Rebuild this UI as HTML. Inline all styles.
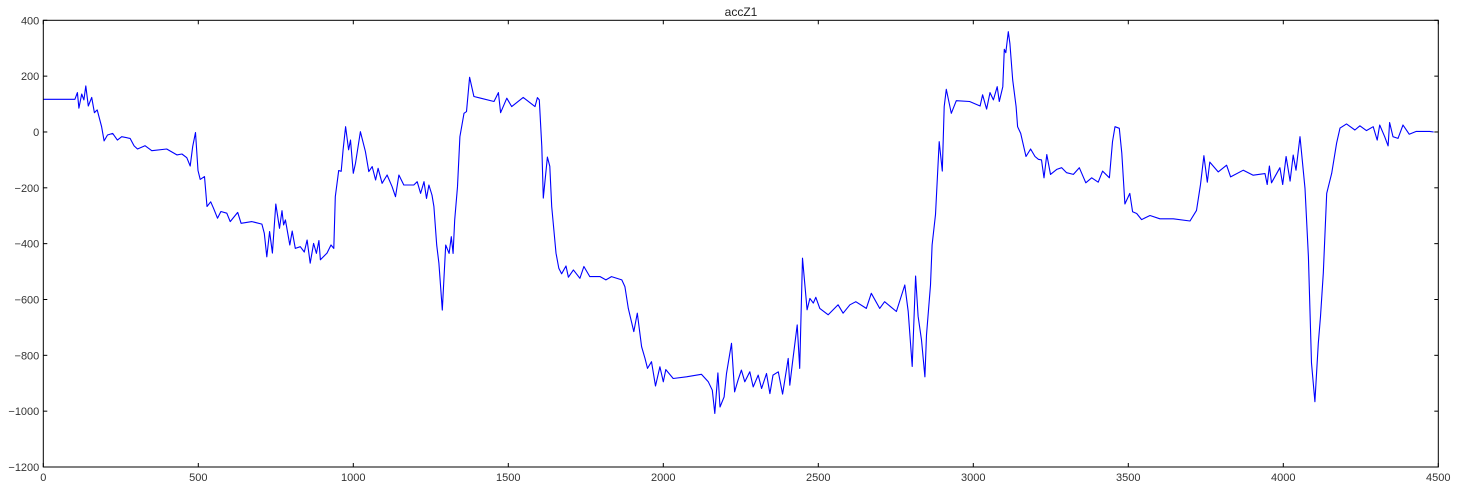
<!DOCTYPE html>
<html><head><meta charset="utf-8"><style>
body{margin:0;background:#fff;}
svg{display:block;font-family:"Liberation Sans","DejaVu Sans",sans-serif;}
</style></head><body>
<svg id="chart" width="1457" height="486" viewBox="0 0 1457 486">
<text x="741" y="16" text-anchor="middle" font-size="12" fill="#222">accZ1</text>
<g id="ticks"></g>
<path id="series" fill="none" stroke="#0000ff" stroke-width="1.1" stroke-linejoin="round"/>
<rect x="43.3" y="20.3" width="1395" height="446.7" fill="none" stroke="#000" stroke-width="1"/>
</svg>
<script>
const xTicks=[0,500,1000,1500,2000,2500,3000,3500,4000,4500];
const yTicks=[400,200,0,-200,-400,-600,-800,-1000,-1200];
const xs=[0,102,110,115,124,131,137,145,156,165,174,188,196,207,224,239,253,280,293,304,328,350,398,431,447,463,474,482,491,499,506,520,528,540,549,562,573,592,603,627,638,673,705,713,721,730,739,750,762,770,775,781,795,803,813,829,842,851,861,872,881,889,894,915,928,937,942,953,961,967,975,985,991,1000,1007,1023,1039,1050,1061,1072,1080,1093,1109,1125,1136,1147,1163,1195,1206,1217,1228,1236,1244,1254,1260,1269,1276,1287,1298,1309,1316,1322,1327,1336,1344,1357,1365,1375,1389,1411,1454,1468,1475,1495,1511,1548,1586,1594,1600,1608,1613,1626,1634,1640,1654,1663,1672,1686,1694,1710,1731,1744,1763,1796,1815,1833,1866,1876,1887,1905,1916,1930,1941,1949,1962,1975,1989,2000,2008,2032,2075,2123,2145,2158,2166,2176,2183,2196,2204,2220,2230,2241,2252,2263,2279,2290,2306,2317,2333,2344,2354,2371,2385,2403,2408,2417,2432,2440,2449,2464,2473,2484,2492,2505,2532,2564,2580,2602,2621,2655,2671,2698,2714,2752,2779,2790,2803,2814,2822,2833,2844,2849,2862,2867,2878,2890,2900,2906,2913,2929,2945,2988,3022,3030,3043,3054,3065,3077,3084,3095,3100,3105,3113,3118,3127,3138,3143,3153,3159,3170,3185,3199,3210,3220,3228,3237,3249,3269,3285,3301,3323,3342,3363,3382,3403,3417,3439,3449,3457,3471,3479,3489,3505,3514,3527,3543,3570,3602,3645,3699,3720,3733,3744,3755,3763,3790,3817,3830,3871,3903,3941,3948,3955,3962,3989,3998,4009,4022,4032,4041,4054,4070,4081,4091,4102,4113,4120,4129,4140,4156,4172,4183,4204,4231,4247,4268,4290,4303,4311,4327,4338,4343,4354,4370,4386,4406,4429,4472,4485];
const ys=[117,117,141,85,136,115,165,93,124,69,79,19,-32,-11,-5,-29,-17,-23,-50,-61,-49,-67,-61,-82,-79,-92,-122,-52,-2,-138,-170,-160,-267,-250,-273,-309,-285,-291,-321,-288,-327,-321,-330,-363,-447,-357,-434,-258,-345,-282,-333,-315,-405,-355,-417,-411,-430,-387,-470,-399,-435,-389,-458,-434,-405,-417,-232,-138,-141,-64,19,-64,-29,-148,-112,1,-70,-142,-124,-172,-130,-184,-154,-196,-232,-154,-190,-190,-178,-220,-178,-238,-190,-226,-267,-405,-470,-638,-405,-435,-375,-435,-315,-196,-17,67,73,196,127,121,109,141,69,121,91,124,91,123,115,-52,-237,-90,-123,-267,-434,-488,-508,-480,-520,-494,-524,-482,-518,-518,-530,-518,-530,-554,-632,-715,-649,-769,-811,-847,-823,-910,-841,-895,-851,-883,-877,-868,-895,-925,-1008,-863,-985,-949,-865,-757,-931,-889,-853,-895,-859,-913,-871,-919,-865,-937,-871,-859,-939,-811,-907,-823,-691,-847,-452,-637,-596,-613,-592,-632,-655,-619,-649,-619,-608,-632,-578,-632,-608,-643,-548,-643,-840,-516,-660,-745,-877,-727,-548,-405,-296,-35,-140,91,153,67,112,109,93,133,82,141,115,162,109,162,296,284,359,317,186,91,19,-5,-35,-88,-61,-88,-98,-100,-164,-81,-152,-134,-128,-146,-152,-128,-182,-164,-180,-140,-164,-35,19,13,-76,-258,-220,-286,-292,-314,-299,-311,-311,-319,-281,-188,-85,-180,-108,-143,-119,-161,-137,-155,-149,-188,-122,-182,-128,-188,-88,-176,-83,-137,-17,-202,-446,-828,-966,-757,-661,-506,-220,-148,-40,14,29,7,22,5,19,-29,25,-17,-50,34,-17,-23,25,-8,2,2,0];
const L=43.3,R=1438.3,T=20.3,B=467;
const xScale=v=>L+(v-0)/(4500-0)*(R-L);
const yScale=v=>B-(v+1200)/(1600)*(B-T);
const NS='http://www.w3.org/2000/svg';
const g=document.getElementById('ticks');
function line(x1,y1,x2,y2,name){const l=document.createElementNS(NS,'line');l.setAttribute('x1',x1);l.setAttribute('y1',y1);l.setAttribute('x2',x2);l.setAttribute('y2',y2);l.setAttribute('stroke','#000');l.setAttribute('stroke-width','1');


g.appendChild(l);}
function text(x,y,s,anchor,name){const t=document.createElementNS(NS,'text');t.setAttribute('x',x);t.setAttribute('y',y);t.setAttribute('text-anchor',anchor);t.setAttribute('font-size','11');t.setAttribute('fill','#333');t.textContent=s;


g.appendChild(t);}
xTicks.forEach(v=>{const x=xScale(v);line(x,B,x,B-4,'x-tick');line(x,T,x,T+4,'x-tick-top');text(x,B+14,String(v),'middle','x-tick-label');});
yTicks.forEach(v=>{const y=yScale(v);line(L,y,L+4,y,'y-tick');line(R,y,R-4,y,'y-tick-right');text(L-4,y+4,String(v).replace('-','\u2212'),'end','y-tick-label');});
let d='';xs.forEach((v,i)=>{d+=(i?'L':'M')+xScale(v).toFixed(1)+','+yScale(ys[i]).toFixed(1);});
document.getElementById('series').setAttribute('d',d);
</script>
</body></html>
